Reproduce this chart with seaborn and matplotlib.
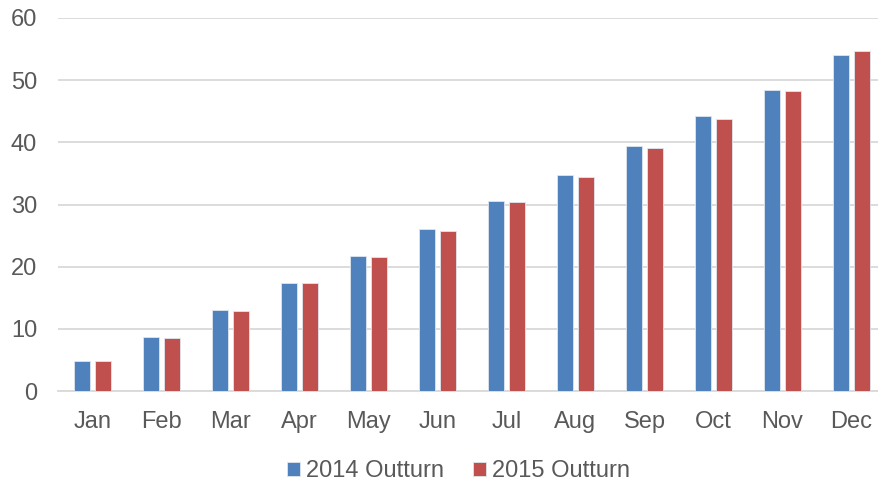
import pandas as pd
import seaborn as sns
import matplotlib.pyplot as plt

months = ["Jan", "Feb", "Mar", "Apr", "May", "Jun", "Jul", "Aug", "Sep", "Oct", "Nov", "Dec"]
outturn_2014 = [4.8, 8.7, 13.0, 17.3, 21.7, 26.0, 30.5, 34.8, 39.4, 44.2, 48.4, 54.0]
outturn_2015 = [4.8, 8.6, 12.9, 17.3, 21.5, 25.7, 30.4, 34.4, 39.1, 43.7, 48.2, 54.7]
series = ["2014 Outturn", "2015 Outturn"]
colors = ["#4F81BD", "#C0504D"]

df = pd.DataFrame({
    "month": months * 2,
    "value": outturn_2014 + outturn_2015,
    "series": [series[0]] * 12 + [series[1]] * 12,
})

sns.set_style("white")
plt.rcParams["font.family"] = ["Liberation Sans", "DejaVu Sans"]
text_color = "#595959"

fig = plt.figure(figsize=(8.79, 4.82), dpi=100)
ax = fig.add_axes([58 / 879, 1 - 391 / 482, 828 / 879, 373 / 482])

sns.barplot(data=df, x="month", y="value", hue="series", palette=colors,
            saturation=1, width=0.58, gap=0.2, edgecolor="#dfe6f0", linewidth=0.6,
            ax=ax, zorder=3)

ax.set_ylim(0, 60)
ax.set_xlim(-0.5, 11.5)
ax.set_yticks(range(0, 61, 10))
ax.yaxis.grid(True, color="#d9d9d9", linewidth=1.3, zorder=0)
ax.set_axisbelow(True)
for s in ["top", "right", "left"]:
    ax.spines[s].set_visible(False)
ax.spines["bottom"].set_color("#d9d9d9")
ax.spines["bottom"].set_linewidth(1.3)
ax.tick_params(axis="both", length=0, labelsize=17, labelcolor=text_color)
ax.tick_params(axis="y", pad=15)
ax.tick_params(axis="x", pad=14.5)
ax.set_xlabel("")
ax.set_ylabel("")

handles, labels = ax.get_legend_handles_labels()
ax.get_legend().remove()
fig.legend(handles, labels, loc="center", bbox_to_anchor=(458.5 / 879, 1 - 471 / 482),
           ncol=2, frameon=False, fontsize=17, labelcolor=text_color,
           handlelength=0.55, handleheight=0.55, handletextpad=0.25, columnspacing=1.2)

fig.savefig("out.png", dpi=100)
